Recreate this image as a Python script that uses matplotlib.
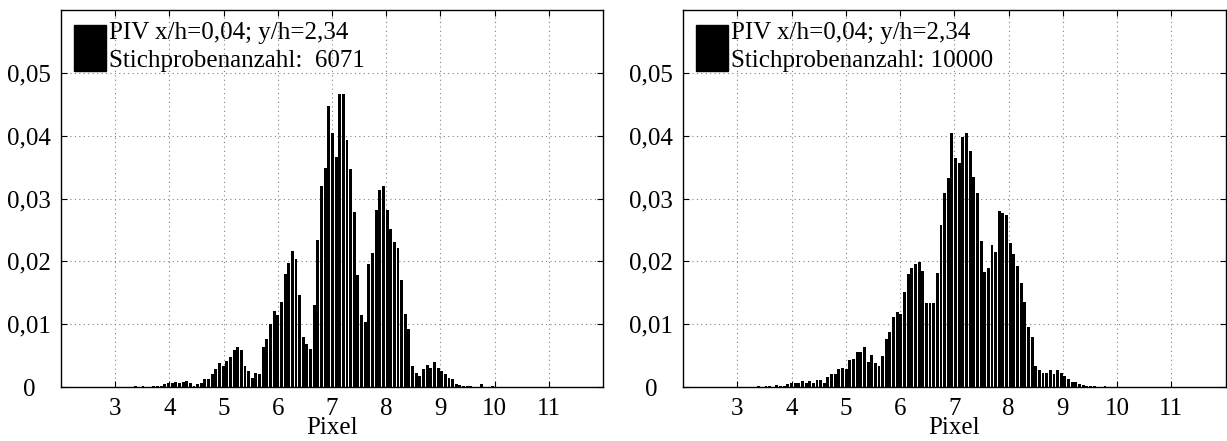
import matplotlib
matplotlib.use("Agg")
import matplotlib.pyplot as plt
from matplotlib.patches import Rectangle
import numpy as np

plt.rcParams['font.family'] = ['Liberation Serif', 'DejaVu Serif']
plt.rcParams['font.size'] = 18

# histogram data (relative frequency), 99 bins of equal width
bin_width = 0.0672
left_first = 3.379
right_first = 3.395

left_freq = [
    0.0002, 0.0, 0.0001, 0.0, 0.0, 0.0002, 0.0002, 0.0002,
    0.0005, 0.0006, 0.0007, 0.0008, 0.0006, 0.0008, 0.0010, 0.0006,
    0.0002, 0.0004, 0.0007, 0.0013, 0.0013, 0.0020, 0.0029, 0.0038,
    0.0033, 0.0041, 0.0047, 0.0059, 0.0064, 0.0059, 0.0033, 0.0026,
    0.0015, 0.0023, 0.0021, 0.0064, 0.0076, 0.0100, 0.0121, 0.0115,
    0.0136, 0.0180, 0.0198, 0.0216, 0.0204, 0.0146, 0.0080, 0.0069,
    0.0061, 0.0131, 0.0234, 0.0320, 0.0348, 0.0447, 0.0405, 0.0366,
    0.0467, 0.0467, 0.0393, 0.0347, 0.0279, 0.0179, 0.0115, 0.0104,
    0.0196, 0.0213, 0.0282, 0.0314, 0.0320, 0.0282, 0.0251, 0.0231,
    0.0221, 0.0171, 0.0116, 0.0093, 0.0033, 0.0023, 0.0018, 0.0028,
    0.0035, 0.0031, 0.0040, 0.0031, 0.0025, 0.0021, 0.0015, 0.0013,
    0.0005, 0.0003, 0.0002, 0.0002, 0.0002, 0.0, 0.0, 0.0004,
    0.0, 0.0, 0.0002,
]

right_freq = [
    0.0002, 0.0, 0.0001, 0.0001, 0.0, 0.0003, 0.0002, 0.0001,
    0.0004, 0.0007, 0.0006, 0.0006, 0.0010, 0.0006, 0.0009, 0.0006,
    0.0011, 0.0011, 0.0006, 0.0016, 0.0020, 0.0021, 0.0028, 0.0030,
    0.0029, 0.0043, 0.0045, 0.0055, 0.0056, 0.0064, 0.0040, 0.0051,
    0.0038, 0.0034, 0.0050, 0.0077, 0.0087, 0.0111, 0.0120, 0.0116,
    0.0151, 0.0180, 0.0190, 0.0196, 0.0199, 0.0185, 0.0133, 0.0133,
    0.0134, 0.0182, 0.0258, 0.0308, 0.0333, 0.0405, 0.0365, 0.0357,
    0.0398, 0.0404, 0.0376, 0.0334, 0.0308, 0.0232, 0.0183, 0.0189,
    0.0226, 0.0215, 0.0280, 0.0277, 0.0273, 0.0229, 0.0212, 0.0193,
    0.0166, 0.0135, 0.0096, 0.0079, 0.0034, 0.0027, 0.0023, 0.0023,
    0.0027, 0.0021, 0.0027, 0.0022, 0.0017, 0.0013, 0.0008, 0.0008,
    0.0004, 0.0003, 0.0002, 0.0001, 0.0001, 0.0, 0.0, 0.0002,
    0.0, 0.0, 0.0,
]

legend_labels = [
    "PIV x/h=0,04; y/h=2,34\nStichprobenanzahl:  6071",
    "PIV x/h=0,04; y/h=2,34\nStichprobenanzahl: 10000",
]

xticks = [3, 4, 5, 6, 7, 8, 9, 10, 11]
yticks = [0, 0.01, 0.02, 0.03, 0.04, 0.05]
ytick_labels = ['0', '0,01', '0,02', '0,03', '0,04', '0,05']

fig = plt.figure(figsize=(12.27, 4.41), dpi=100)
ax1 = fig.add_axes([61 / 1227, 54 / 441, 542 / 1227, 377 / 441])
ax2 = fig.add_axes([683 / 1227, 54 / 441, 542.5 / 1227, 377 / 441])

panels = [(ax1, left_first, left_freq, legend_labels[0]),
          (ax2, right_first, right_freq, legend_labels[1])]

for ax, first, freq, lab in panels:
    centers = first + bin_width * np.arange(len(freq))
    ax.bar(centers, freq, width=bin_width * 0.8, color='k', linewidth=0)

    ax.set_xlim(2, 12)
    ax.set_ylim(0, 0.06)
    ax.set_xticks(xticks)
    ax.set_yticks(yticks)
    ax.set_yticklabels(ytick_labels)
    for t in ax.get_yticklabels():
        t.set_horizontalalignment('center')
    ax.grid(True, linestyle=(0, (1, 3)), color='0.5', linewidth=0.8)
    ax.set_axisbelow(True)
    ax.tick_params(direction='in', length=4, width=0.8, top=True, right=True)
    ax.tick_params(axis='x', pad=8)
    ax.tick_params(axis='y', pad=23)
    for s in ax.spines.values():
        s.set_linewidth(1.0)
    ax.set_xlabel('Pixel', labelpad=-2)

    h = Rectangle((0, 0), 1, 1, facecolor='k', edgecolor='k')
    leg = ax.legend([h], [lab], loc='upper left', frameon=False,
                    handlelength=1.3, handleheight=2.5, handletextpad=0.12,
                    borderpad=0, borderaxespad=0.5, fontsize=18)
    for t in leg.get_texts():
        t.set_linespacing(1.3)

fig.savefig('out.png', dpi=100)
